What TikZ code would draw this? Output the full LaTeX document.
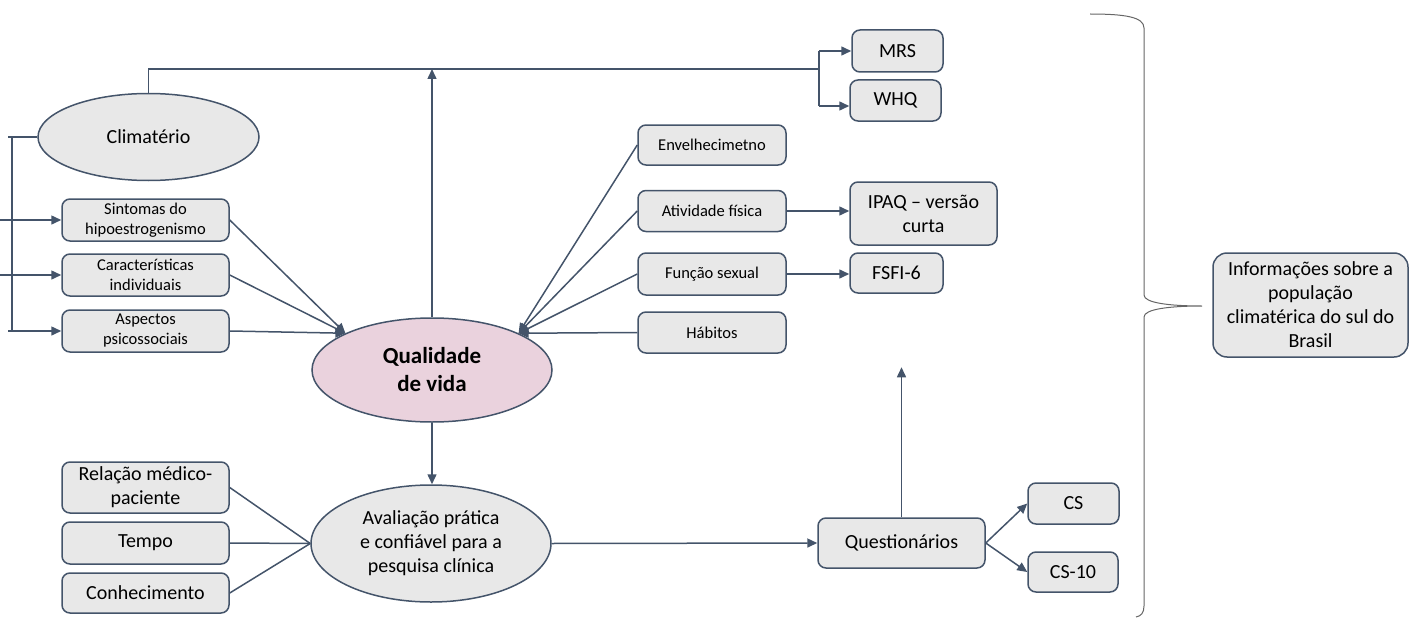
\documentclass[tikz,border=0pt]{standalone}
\usepackage{fontspec}
\setmainfont{Carlito}
\usepackage{tikz}
\usetikzlibrary{shapes.geometric,arrows.meta}
\definecolor{qvslate}{RGB}{68,84,106}
\definecolor{qvgrey}{RGB}{232,232,232}
\definecolor{qvpink}{RGB}{234,210,221}
\newcommand\qvsmall{\fontsize{16.5}{20}\selectfont}
\newcommand\qvmid{\fontsize{20}{24}\selectfont}
\newcommand\qvbig{\fontsize{23}{28}\selectfont\bfseries}
\tikzset{
  qvbox/.style={draw=qvslate, fill=qvgrey, line width=1.5pt, rounded corners=8pt, inner sep=0pt, align=center, font=\qvmid},
  qvsbox/.style={qvbox, font=\qvsmall},
  qvoval/.style={ellipse, draw=qvslate, fill=qvgrey, line width=1.5pt, inner sep=0pt, align=center, font=\qvmid},
  qvarrow/.style={draw=qvslate, line width=1.5pt, -{Triangle[length=10pt,width=9pt]}},
  qvline/.style={draw=qvslate, line width=1.5pt},
  qvbrace/.style={draw=black!60, line width=1pt},
}

\begin{document}
\begin{tikzpicture}[x=1pt,y=-1pt]
\useasboundingbox (0,0) rectangle (1409,618);

% left column
\node[qvoval, minimum width=221pt, minimum height=87pt] (clim) at (148.5,137) {Climatério};
\node[qvsbox, minimum width=167pt, minimum height=42pt] (sint) at (145.5,220) {Sintomas do\\hipoestrogenismo};
\node[qvsbox, minimum width=167pt, minimum height=42pt] (cara) at (145.5,275) {Características\\individuais};
\node[qvsbox, minimum width=167pt, minimum height=42pt] (aspe) at (145.5,331) {Aspectos\\psicossociais};

% centre
\node[qvoval, fill=qvpink, font=\qvbig, minimum width=240pt, minimum height=104pt] (qual) at (432,370) {Qualidade\\de vida};
\node[qvoval, minimum width=240pt, minimum height=117pt] (aval) at (431,543.5) {Avaliação prática\\e confiável para a\\pesquisa clínica};
\node[qvbox, minimum width=167pt, minimum height=51pt] (rela) at (145.5,487.5) {Relação médico-\\paciente};
\node[qvbox, minimum width=167pt, minimum height=42pt] (temp) at (145.5,543) {Tempo};
\node[qvbox, minimum width=167pt, minimum height=40pt] (conh) at (145.5,593) {Conhecimento};

% right column
\node[qvsbox, minimum width=148pt, minimum height=40pt] (enve) at (712,145) {Envelhecimetno};
\node[qvsbox, minimum width=148pt, minimum height=41pt] (ativ) at (712,211) {Atividade física};
\node[qvsbox, minimum width=148pt, minimum height=42pt] (func) at (712,274) {Função sexual};
\node[qvsbox, minimum width=148pt, minimum height=41pt] (habi) at (712,332.5) {Hábitos};
\node[qvbox, minimum width=147pt, minimum height=63pt] (ipaq) at (923.5,213.5) {IPAQ -- versão\\curta};
\node[qvbox, minimum width=93pt, minimum height=40pt] (fsfi) at (896.5,273) {FSFI-6};
\node[qvbox, minimum width=91pt, minimum height=42pt] (mrs) at (897.5,51) {MRS};
\node[qvbox, minimum width=91pt, minimum height=41pt] (whq) at (895.5,100.5) {WHQ};
\node[qvbox, minimum width=167pt, minimum height=50pt] (ques) at (901.5,543) {Questionários};
\node[qvbox, minimum width=91pt, minimum height=41pt] (cs) at (1073.5,503.5) {CS};
\node[qvbox, minimum width=90pt, minimum height=40pt] (cs10) at (1073,572) {CS-10};
\node[qvbox, rounded corners=14pt, minimum width=195pt, minimum height=104pt] (info) at (1310.5,305) {Informações sobre a\\população\\climatérica do sul do\\Brasil};

% top line and branch
\coordinate (spl) at (819,69);
\coordinate (sptop) at (819,51);
\coordinate (spbot) at (819,106);
\draw[qvline] (clim.north) |- (spl);
\draw[qvarrow] (qual.north) -- (qual.north |- spl);
\draw[qvline] (sptop) -- (spbot);
\draw[qvarrow] (sptop) -- (sptop -| mrs.west);
\draw[qvarrow] (spbot) -- (spbot -| whq.west);

% left bracket
\coordinate (lbtop) at (12,137);
\coordinate (lbend) at (8,137);
\coordinate (lbedge) at (0,0);
\draw[qvline] (clim.west) -- (lbend);
\draw[qvline] (lbtop) -- (lbtop |- aspe.west);
\draw[qvarrow] (sint.west -| lbedge) -- (sint.west);
\draw[qvarrow] (cara.west -| lbedge) -- (cara.west);
\draw[qvarrow] (aspe.west -| lbend) -- (aspe.west);

% into quality of life
\foreach \n in {sint,cara,aspe}
  \draw[qvarrow] (\n.east) -- (qual.157);
\foreach \n in {enve,ativ,func,habi}
  \draw[qvarrow] (\n.west) -- (qual.23);
\draw[qvarrow] (ativ.east) -- (ativ.east -| ipaq.west);
\draw[qvarrow] (func.east) -- (func.east -| fsfi.west);

% lower part
\draw[qvarrow] (qual.south) -- (qual.south |- aval.north);
\foreach \n in {rela,temp,conh}
  \draw[qvline] (\n.east) -- (aval.west);
\draw[qvarrow] (aval.east) -- (ques.west);
\draw[qvarrow] (ques.north) -- ++(0,-150);
\draw[qvarrow] (ques.east) -- (cs.west);
\draw[qvarrow] (ques.east) -- (cs10.west);

% brace
\draw[qvbrace] (1090,14) .. controls (1125,14) and (1144,17) .. (1144,28)
  -- (1144,295) .. controls (1144,303) and (1170,306) .. (1202,306)
  .. controls (1170,306) and (1144,309) .. (1144,317)
  -- (1144,606) .. controls (1144,613) and (1141,616) .. (1136,617);
\end{tikzpicture}
\end{document}
